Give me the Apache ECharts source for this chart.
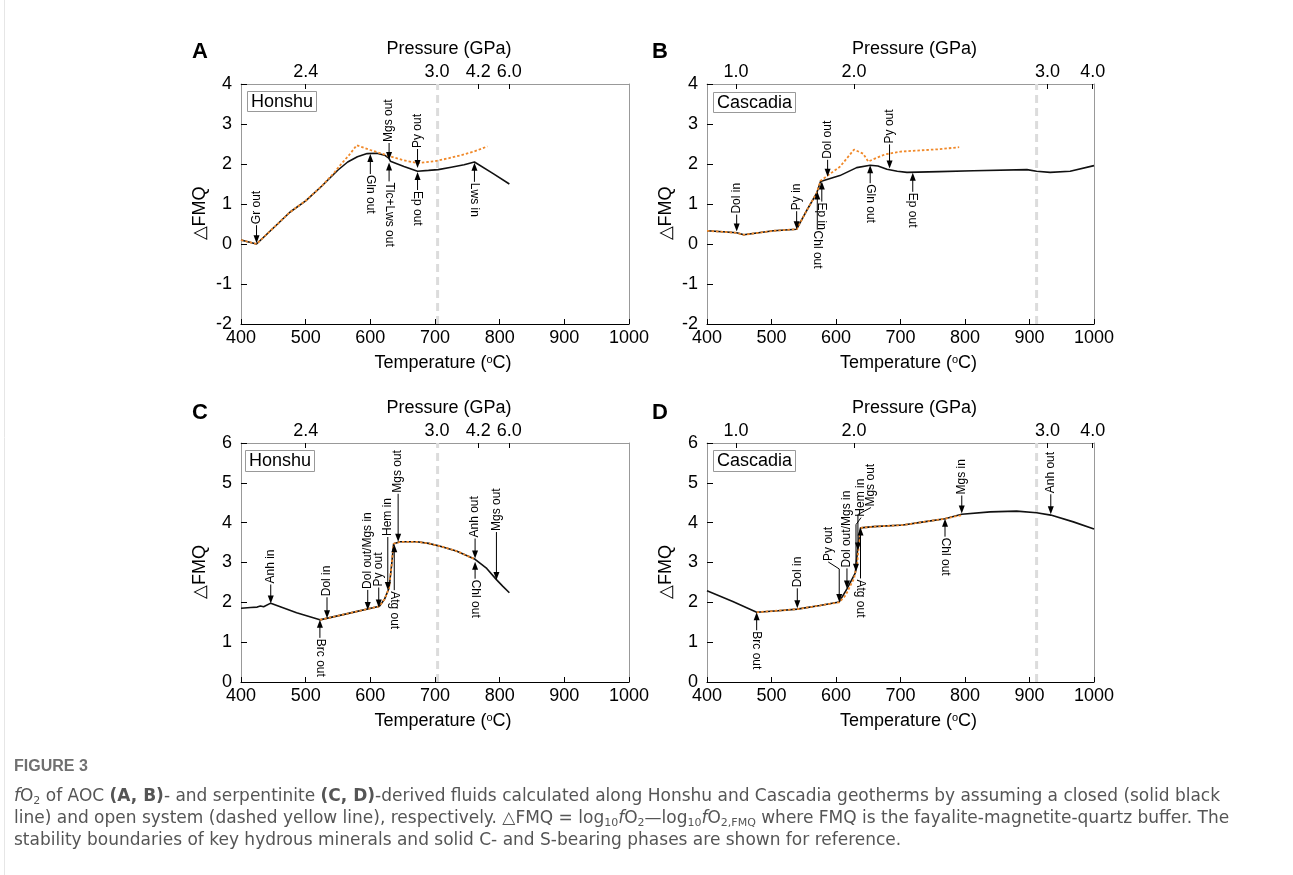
<!DOCTYPE html>
<html><head><meta charset="utf-8">
<script src="https://cdn.jsdelivr.net/npm/echarts@6/dist/echarts.min.js"></script>
<style>html,body{margin:0;padding:0;background:#fff}#c{width:1293px;height:875px}</style>
</head><body><div id="c"></div>
<script>
// ---------- data ----------
const tempTicks = [400, 500, 600, 700, 800, 900, 1000];
const honshuPressureTemps = [500, 703, 767, 815];
const honshuPressureLabels = ['2.4', '3.0', '4.2', '6.0'];
const cascadiaPressureTemps = [445, 628, 928, 998];
const cascadiaPressureLabels = ['1.0', '2.0', '3.0', '4.0'];
const honshu3GPaTemp = 704;
const cascadia3GPaTemp = 911;

// Panel A (AOC, Honshu)
const aClosed = [[400,0.10],[412,0.05],[424,0.00],[450,0.40],[476,0.80],[500,1.08],[525,1.45],[550,1.85],[565,2.05],[580,2.18],[595,2.26],[610,2.27],[622,2.22],[629,2.14],[631,2.07],[652,1.94],[673,1.82],[690,1.84],[705,1.86],[725,1.92],[745,1.98],[761,2.05],[790,1.76],[815,1.50]];
const aOpen = [[400,0.10],[412,0.05],[424,0.00],[450,0.40],[476,0.80],[500,1.08],[525,1.45],[545,1.80],[555,2.00],[567,2.22],[579,2.47],[600,2.35],[629,2.20],[650,2.10],[673,2.02],[700,2.07],[720,2.14],[740,2.22],[760,2.31],[781,2.44]];
// Panel B (AOC, Cascadia)
const bClosed = [[400,0.33],[430,0.30],[446,0.28],[457,0.23],[480,0.28],[503,0.33],[539,0.37],[555,0.85],[570,1.27],[576,1.56],[606,1.71],[632,1.91],[653,1.97],[665,1.95],[679,1.87],[695,1.82],[710,1.79],[760,1.81],[813,1.83],[896,1.86],[911,1.82],[932,1.79],[963,1.82],[1000,1.96]];
const bOpen = [[400,0.33],[446,0.28],[457,0.23],[480,0.28],[503,0.33],[539,0.37],[555,0.85],[570,1.27],[576,1.58],[586,1.70],[606,1.93],[628,2.36],[642,2.26],[650,2.06],[658,2.12],[676,2.24],[700,2.31],[730,2.34],[760,2.37],[791,2.42]];
// Panel C (serpentinite, Honshu)
const cClosed = [[400,1.85],[415,1.87],[425,1.88],[430,1.91],[435,1.89],[446,1.98],[486,1.74],[522,1.56],[563,1.71],[614,1.90],[622,2.08],[629,2.36],[633,2.95],[636,3.47],[646,3.52],[672,3.52],[690,3.48],[708,3.41],[733,3.29],[762,3.08],[780,2.85],[795,2.57],[805,2.40],[815,2.24]];
const cOpen = [[522,1.56],[563,1.71],[614,1.90],[622,2.08],[629,2.36],[633,2.95],[636,3.47],[646,3.52],[672,3.52],[690,3.48],[708,3.41],[733,3.29],[762,3.08]];
// Panel D (serpentinite, Cascadia)
const dClosed = [[400,2.29],[440,2.02],[477,1.75],[510,1.79],[540,1.83],[575,1.92],[605,2.01],[617,2.34],[630,2.74],[634,3.40],[638,3.87],[658,3.90],[704,3.94],[736,4.02],[769,4.10],[795,4.21],[839,4.27],[880,4.29],[911,4.25],[933,4.19],[968,4.02],[1000,3.84]];
const dOpen = [[477,1.75],[510,1.79],[540,1.83],[575,1.92],[605,2.00],[615,2.18],[628,2.60],[633,3.00],[636,3.55],[639,3.87],[658,3.90],[704,3.94],[736,4.02],[769,4.10],[795,4.19]];

// Phase-boundary annotations: label, temperature, ΔFMQ at arrow tip, side (1 = from above, -1 = from below)
const annALabels = ['Gr out','Gln out','Mgs out','Tlc+Lws out','Py out','Ep out','Lws in'];
const annATemps  = [424, 600, 629, 629, 673, 673, 761];
const annATips   = [0.02, 2.25, 2.10, 2.04, 1.90, 1.80, 2.03];
const annASides  = [1, -1, 1, -1, 1, -1, -1];

const annBLabels = ['Dol in','Py in','Dol out','Ep in','Chl out','Gln out','Py out','Ep out'];
const annBTemps  = [446, 539, 587, 578, 571, 653, 683, 719];
const annBTips   = [0.31, 0.37, 1.68, 1.56, 1.31, 1.97, 1.89, 1.78];
const annBSides  = [1, 1, 1, -1, -1, -1, 1, -1];

const annCLabels = ['Anh in','Dol in','Brc out','Dol out/Mgs in','Py out','Hem in','Mgs out','Atg out','Anh out','Chl out','Mgs out'];
const annCTemps  = [446, 533, 522, 596, 613, 627, 643, 637, 762, 762, 795];
const annCTips   = [1.97, 1.60, 1.56, 1.81, 1.87, 2.31, 3.52, 3.46, 3.10, 3.02, 2.56];
const annCSides  = [1, 1, -1, 1, 1, 1, 1, -1, 1, -1, 1];

const annDLabels = ['Brc out','Dol in','Py out','Dol out/Mgs in','Hem in','Mgs out','Atg out','Chl out','Mgs in','Anh out'];
const annDTemps  = [477, 540, 605, 617, 631, 634, 638, 769, 795, 933];
const annDTips   = [1.75, 1.85, 2.01, 2.35, 2.77, 3.30, 3.88, 4.10, 4.23, 4.21];
const annDSides  = [-1, 1, 1, 1, 1, 1, -1, -1, 1, 1];

// ---------- layout / style (not data) ----------
const FONT = '"Liberation Sans", Arial, Helvetica, sans-serif';
const BLACK = '#111';
const ORANGE = '#F0892A';
// leader length (px) and horizontal text offset (px) for each annotation
const annALayout = { len: [18, 20, 17, 19, 19, 18, 19], dx: [] };
const annBLayout = { len: [17, 18, 17, 20, 38, 18, 24, 19], dx: [] };
const annCLayout = { len: [19, 21, 18, 20, 20, 53, 48, 46, 20, 17, 48], dx: [] };
const annDLayout = { len: [18, 20, 33, 20, 47, 36, 51, 18, 18, 20], dx: [0, 0, -11, 0, 5, 13, 0, 0, 0, 0] };

const grids = [
  { left: 241, top: 84, width: 388, height: 240 },
  { left: 707, top: 84, width: 387, height: 240 },
  { left: 241, top: 443, width: 388, height: 239 },
  { left: 707, top: 443, width: 387, height: 239 }
];

const chart = echarts.init(document.getElementById('c'), null, { renderer: 'canvas' });

const xAxes = [], yAxes = [], series = [];

function addPanel(gi, pTemps, pLabels, yMin, yMax, closed, open, refT, ann, layout) {
  // bottom temperature axis
  xAxes.push({
    gridIndex: gi, type: 'value', position: 'bottom', min: 400, max: 1000, interval: 100,
    name: 'Temperature ({s|o}C)', nameLocation: 'middle', nameGap: 30,
    nameTextStyle: { fontFamily: FONT, fontSize: 18, color: '#000', padding: [0, 0, 0, 16],
      rich: { s: { fontFamily: FONT, fontSize: 11, color: '#000', padding: [0, 0, 7, 0] } } },
    axisLine: { show: true, onZero: false, lineStyle: { color: '#000', width: 1 } },
    axisTick: { show: true, inside: true, length: 5, lineStyle: { color: '#000' } },
    axisLabel: { show: true, margin: 5, fontFamily: FONT, fontSize: 18, color: '#000',
      formatter: function (v) { return String(v); } },
    splitLine: { show: false }
  });
  // top pressure axis
  xAxes.push({
    gridIndex: gi, type: 'value', position: 'top', min: 400, max: 1000,
    name: 'Pressure (GPa)', nameLocation: 'middle', nameGap: 26,
    nameTextStyle: { fontFamily: FONT, fontSize: 18, color: '#000', padding: [0, 0, 0, 28] },
    axisLine: { show: true, onZero: false, lineStyle: { color: '#999', width: 1 } },
    axisTick: { show: true, inside: true, length: 5, lineStyle: { color: '#000' }, customValues: pTemps },
    axisLabel: { show: true, margin: 3, fontFamily: FONT, fontSize: 18, color: '#000',
      customValues: pTemps,
      formatter: function (v) { const k = pTemps.indexOf(v); return k >= 0 ? pLabels[k] : ''; } },
    splitLine: { show: false }
  });
  yAxes.push({
    gridIndex: gi, type: 'value', position: 'left', min: yMin, max: yMax, interval: 1,
    name: '△FMQ', nameLocation: 'middle', nameGap: 32,
    nameTextStyle: { fontFamily: FONT, fontSize: 18, color: '#000', padding: [0, 19, 0, 0] },
    axisLine: { show: true, onZero: false, lineStyle: { color: '#999', width: 1 } },
    axisTick: { show: true, inside: true, length: 6, lineStyle: { color: '#000' } },
    axisLabel: { show: true, margin: 9, fontFamily: FONT, fontSize: 18, color: '#000' },
    splitLine: { show: false }
  });
  yAxes.push({
    gridIndex: gi, type: 'value', position: 'right', min: yMin, max: yMax, interval: 1,
    axisLine: { show: true, onZero: false, lineStyle: { color: '#999', width: 1 } },
    axisTick: { show: false }, axisLabel: { show: false }, splitLine: { show: false }
  });
  const xi = gi * 2, yi = gi * 2;
  series.push({
    type: 'line', xAxisIndex: xi, yAxisIndex: yi, data: [[refT, yMin], [refT, yMax]],
    symbol: 'none', silent: true, z: 1,
    lineStyle: { color: '#dcdcdc', width: 3, type: [8, 5] }
  });
  series.push({
    type: 'line', name: 'closed', xAxisIndex: xi, yAxisIndex: yi, data: closed,
    symbol: 'none', silent: true, z: 3,
    lineStyle: { color: BLACK, width: 1.6 }
  });
  series.push({
    type: 'line', name: 'open', xAxisIndex: xi, yAxisIndex: yi, data: open,
    symbol: 'none', silent: true, z: 4,
    lineStyle: { color: ORANGE, width: 1.8, type: [2.5, 2] }
  });
  const annData = ann.temps.map((t, i) => [t, ann.tips[i], ann.sides[i]]);
  series.push({
    type: 'custom', coordinateSystem: 'cartesian2d', xAxisIndex: xi, yAxisIndex: yi,
    data: annData, silent: true, clip: false, z: 6,
    renderItem: function (params, api) {
      const i = params.dataIndex;
      const p = api.coord([api.value(0), api.value(1)]);
      const s = api.value(2);
      const x = p[0], y = p[1];
      const L = layout.len[i];
      const dx = layout.dx[i] || 0;
      const yTail = y - s * L;
      const pts = [[x, y - s * 4], [x, yTail]];
      let tx = x, ty = yTail;
      if (dx) { ty = yTail - s * 7; tx = x + dx; pts.push([tx, ty]); }
      return {
        type: 'group',
        children: [
          { type: 'polyline', shape: { points: pts }, style: { stroke: '#000', lineWidth: 1, fill: null } },
          { type: 'polygon', shape: { points: [[x, y], [x - 3, y - s * 8], [x + 3, y - s * 8]] }, style: { fill: '#000' } },
          { type: 'text', x: tx, y: ty - s * 1, rotation: s > 0 ? Math.PI / 2 : -Math.PI / 2,
            style: { text: ann.labels[i], x: 0, y: 0, align: 'left', verticalAlign: 'middle',
              fontFamily: FONT, fontSize: 12, fill: '#000' } }
        ]
      };
    }
  });
}

addPanel(0, honshuPressureTemps, honshuPressureLabels, -2, 4, aClosed, aOpen, honshu3GPaTemp,
  { labels: annALabels, temps: annATemps, tips: annATips, sides: annASides }, annALayout);
addPanel(1, cascadiaPressureTemps, cascadiaPressureLabels, -2, 4, bClosed, bOpen, cascadia3GPaTemp,
  { labels: annBLabels, temps: annBTemps, tips: annBTips, sides: annBSides }, annBLayout);
addPanel(2, honshuPressureTemps, honshuPressureLabels, 0, 6, cClosed, cOpen, honshu3GPaTemp,
  { labels: annCLabels, temps: annCTemps, tips: annCTips, sides: annCSides }, annCLayout);
addPanel(3, cascadiaPressureTemps, cascadiaPressureLabels, 0, 6, dClosed, dOpen, cascadia3GPaTemp,
  { labels: annDLabels, temps: annDTemps, tips: annDTips, sides: annDSides }, annDLayout);

function boxLabel(x, y, w, h, text) {
  return [
    { type: 'rect', shape: { x: x + 0.5, y: y + 0.5, width: w, height: h }, style: { fill: '#fff', stroke: '#999', lineWidth: 1 }, z: 10 },
    { type: 'text', x: x + w / 2 + 0.5, y: y + h / 2 + 1, style: { text: text, align: 'center', verticalAlign: 'middle', fontFamily: FONT, fontSize: 18, fill: '#000' }, z: 11 }
  ];
}
function letter(x, y, t) {
  return { type: 'text', x: x, y: y, style: { text: t, fontFamily: FONT, fontWeight: 'bold', fontSize: 22, fill: '#000', align: 'left', verticalAlign: 'top' }, z: 11 };
}
const CAP = '"DejaVu Sans", "Liberation Sans", sans-serif';
const CAPSIZE = 17;
const capRich = {
  i: { fontFamily: CAP, fontSize: CAPSIZE, fontStyle: 'italic', fill: '#555' },
  b: { fontFamily: CAP, fontSize: CAPSIZE, fontWeight: 'bold', fill: '#555' },
  sub: { fontFamily: CAP, fontSize: 11, fill: '#555', padding: [8, 0, 0, 0] }
};
const graphic = [].concat(
  boxLabel(247, 91, 69, 20, 'Honshu'),
  boxLabel(713, 92, 82, 20, 'Cascadia'),
  boxLabel(245, 450, 69, 21, 'Honshu'),
  boxLabel(713, 450, 82, 21, 'Cascadia'),
  [letter(192, 41, 'A'), letter(652, 41, 'B'), letter(192, 402, 'C'), letter(652, 402, 'D'),
   { type: 'line', shape: { x1: 4.5, y1: 0, x2: 4.5, y2: 875 }, style: { stroke: '#e6e6e6', lineWidth: 1 } },
   { type: 'text', x: 14, y: 767, style: { text: 'FIGURE 3', fontFamily: '"Liberation Sans", sans-serif', fontSize: 16, fontWeight: 'bold', fill: '#707070', verticalAlign: 'middle' } },
   { type: 'text', x: 14, y: 797, style: { text: '{i|f}O{sub|2} of AOC {b|(A, B)}- and serpentinite {b|(C, D)}-derived fluids calculated along Honshu and Cascadia geotherms by assuming a closed (solid black',
       fontFamily: CAP, fontSize: CAPSIZE, fill: '#555', verticalAlign: 'middle', rich: capRich } },
   { type: 'text', x: 14, y: 819, style: { text: 'line) and open system (dashed yellow line), respectively. △FMQ = log{sub|10}{i|f}O{sub|2}—log{sub|10}{i|f}O{sub|2,FMQ} where FMQ is the fayalite-magnetite-quartz buffer. The',
       fontFamily: CAP, fontSize: CAPSIZE, fill: '#555', verticalAlign: 'middle', rich: capRich } },
   { type: 'text', x: 14, y: 841, style: { text: 'stability boundaries of key hydrous minerals and solid C- and S-bearing phases are shown for reference.',
       fontFamily: CAP, fontSize: CAPSIZE, fill: '#555', verticalAlign: 'middle' } }
  ]
);

chart.setOption({
  backgroundColor: '#fff',
  animation: false,
  grid: grids.map(g => Object.assign({ containLabel: false }, g)),
  xAxis: xAxes,
  yAxis: yAxes,
  series: series,
  graphic: graphic
});
</script>
</body></html>
